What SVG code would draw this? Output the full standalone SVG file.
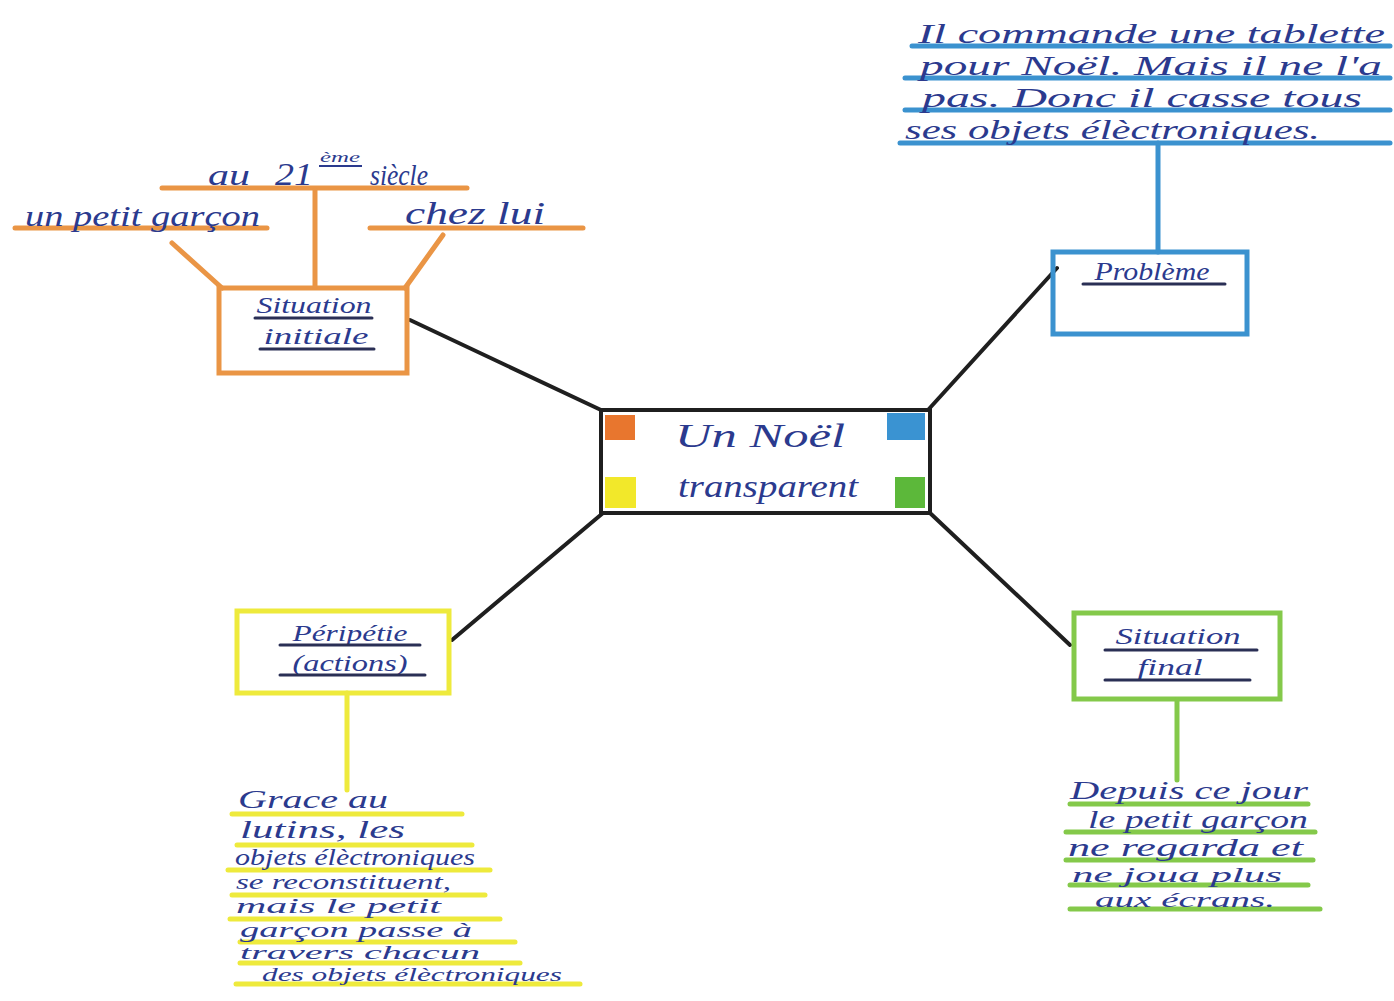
<svg xmlns="http://www.w3.org/2000/svg" width="1394" height="1001" viewBox="0 0 1394 1001">
<style>
.t{font-family:"Liberation Serif","DejaVu Serif",serif;font-style:italic;fill:#2b3a8e}
.ul{stroke:#2a2f55;stroke-width:3;stroke-linecap:round}
.or{stroke:#ea9545;stroke-width:5;fill:none;stroke-linecap:round}
.bl{stroke:#3b92cf;stroke-width:5;fill:none;stroke-linecap:round}
.ye{stroke:#eeea3c;stroke-width:5;fill:none;stroke-linecap:round}
.gr{stroke:#84c94a;stroke-width:5;fill:none;stroke-linecap:round}
.con{stroke:#1f1f1f;stroke-width:4;fill:none;stroke-linecap:round}
</style>
<rect width="1394" height="1001" fill="#ffffff"/>
<g id="connectors">
<line class="con" x1="410" y1="320" x2="601" y2="410"/>
<line class="con" x1="928" y1="410" x2="1057" y2="268"/>
<line class="con" x1="603" y1="513" x2="452" y2="640"/>
<line class="con" x1="930" y1="513" x2="1070" y2="645"/>
</g>
<g id="center">
<rect x="601" y="410" width="329" height="103" fill="#fff" stroke="#1f1f1f" stroke-width="4"/>
<rect x="605" y="415" width="30" height="25" fill="#e8762e"/>
<rect x="887" y="413" width="38" height="27" fill="#3a93d2"/>
<rect x="605" y="477" width="31" height="31" fill="#f2e82a"/>
<rect x="895" y="477" width="30" height="31" fill="#5cb83a"/>
<text class="t" x="760" y="447" font-size="34" text-anchor="middle" textLength="170" lengthAdjust="spacingAndGlyphs">Un Noël</text>
<text class="t" x="768" y="497" font-size="32" text-anchor="middle" textLength="180" lengthAdjust="spacingAndGlyphs">transparent</text>
</g>
<g id="situation-initiale">
<rect class="or" x="219" y="288" width="188" height="85"/>
<text class="t" x="314" y="313" font-size="24" text-anchor="middle" textLength="115" lengthAdjust="spacingAndGlyphs">Situation</text>
<line class="ul" x1="255" y1="318" x2="372" y2="318"/>
<text class="t" x="316" y="344" font-size="24" text-anchor="middle" textLength="105" lengthAdjust="spacingAndGlyphs">initiale</text>
<line class="ul" x1="260" y1="349" x2="374" y2="349"/>
</g>
<g id="initiale-details">
<line class="or" x1="162" y1="188" x2="467" y2="188"/>
<line class="or" x1="315" y1="190" x2="315" y2="287"/>
<line class="or" x1="15" y1="228" x2="267" y2="228"/>
<line class="or" x1="370" y1="228" x2="583" y2="228"/>
<line class="or" x1="172" y1="243" x2="222" y2="288"/>
<line class="or" x1="443" y1="235" x2="405" y2="288"/>
<text class="t" x="208" y="185" font-size="30" textLength="42" lengthAdjust="spacingAndGlyphs">au</text>
<text class="t" x="275" y="185" font-size="32" textLength="38" lengthAdjust="spacingAndGlyphs">21</text>
<text class="t" x="320" y="162" font-size="15" textLength="40" lengthAdjust="spacingAndGlyphs">ème</text>
<line x1="319" y1="166" x2="362" y2="166" stroke="#2b3a8e" stroke-width="2"/>
<text class="t" x="370" y="185" font-size="30" textLength="58" lengthAdjust="spacingAndGlyphs">siècle</text>
<text class="t" x="25" y="226" font-size="30" textLength="235" lengthAdjust="spacingAndGlyphs">un petit garçon</text>
<text class="t" x="405" y="224" font-size="32" textLength="140" lengthAdjust="spacingAndGlyphs">chez  lui</text>
</g>
<g id="probleme">
<rect class="bl" x="1053" y="252" width="194" height="82"/>
<text class="t" x="1152" y="280" font-size="26" text-anchor="middle" textLength="115" lengthAdjust="spacingAndGlyphs">Problème</text>
<line class="ul" x1="1083" y1="284" x2="1225" y2="284"/>
<line class="bl" x1="1158" y1="143" x2="1158" y2="252"/>
</g>
<g id="probleme-details">
<line class="bl" x1="912" y1="46" x2="1390" y2="46"/>
<line class="bl" x1="905" y1="78" x2="1390" y2="78"/>
<line class="bl" x1="905" y1="110" x2="1390" y2="110"/>
<line class="bl" x1="900" y1="143" x2="1390" y2="143"/>
<text class="t" x="918" y="43" font-size="28" textLength="467" lengthAdjust="spacingAndGlyphs">Il commande une tablette</text>
<text class="t" x="920" y="75" font-size="28" textLength="462" lengthAdjust="spacingAndGlyphs">pour Noël. Mais il ne l'a</text>
<text class="t" x="922" y="107" font-size="28" textLength="440" lengthAdjust="spacingAndGlyphs">pas. Donc il casse tous</text>
<text class="t" x="905" y="139" font-size="28" textLength="415" lengthAdjust="spacingAndGlyphs">ses objets élèctroniques.</text>
</g>
<g id="peripetie">
<rect class="ye" x="237" y="611" width="212" height="82"/>
<text class="t" x="350" y="641" font-size="24" text-anchor="middle" textLength="115" lengthAdjust="spacingAndGlyphs">Péripétie</text>
<line class="ul" x1="280" y1="645" x2="420" y2="645"/>
<text class="t" x="350" y="671" font-size="24" text-anchor="middle" textLength="115" lengthAdjust="spacingAndGlyphs">(actions)</text>
<line class="ul" x1="280" y1="675" x2="425" y2="675"/>
<line class="ye" x1="347" y1="693" x2="347" y2="790"/>
</g>
<g id="peripetie-details">
<line class="ye" x1="232" y1="814" x2="462" y2="814"/>
<line class="ye" x1="237" y1="845" x2="472" y2="845"/>
<line class="ye" x1="228" y1="870" x2="490" y2="870"/>
<line class="ye" x1="232" y1="895" x2="485" y2="895"/>
<line class="ye" x1="230" y1="919" x2="500" y2="919"/>
<line class="ye" x1="240" y1="942" x2="515" y2="942"/>
<line class="ye" x1="240" y1="963" x2="520" y2="963"/>
<line class="ye" x1="236" y1="984" x2="580" y2="984"/>
<text class="t" x="238" y="808" font-size="26" textLength="150" lengthAdjust="spacingAndGlyphs">Grace au</text>
<text class="t" x="240" y="838" font-size="26" textLength="165" lengthAdjust="spacingAndGlyphs">lutins, les</text>
<text class="t" x="235" y="865" font-size="23" textLength="240" lengthAdjust="spacingAndGlyphs">objets élèctroniques</text>
<text class="t" x="236" y="889" font-size="21" textLength="215" lengthAdjust="spacingAndGlyphs">se reconstituent,</text>
<text class="t" x="236" y="913" font-size="21" textLength="205" lengthAdjust="spacingAndGlyphs">mais le petit</text>
<text class="t" x="240" y="937" font-size="21" textLength="232" lengthAdjust="spacingAndGlyphs">garçon passe à</text>
<text class="t" x="240" y="959" font-size="19" textLength="240" lengthAdjust="spacingAndGlyphs">travers chacun</text>
<text class="t" x="262" y="981" font-size="19" textLength="300" lengthAdjust="spacingAndGlyphs">des objets élèctroniques</text>
</g>
<g id="situation-finale">
<rect class="gr" x="1074" y="613" width="206" height="86"/>
<text class="t" x="1178" y="644" font-size="24" text-anchor="middle" textLength="125" lengthAdjust="spacingAndGlyphs">Situation</text>
<line class="ul" x1="1105" y1="650" x2="1257" y2="650"/>
<text class="t" x="1170" y="675" font-size="24" text-anchor="middle" textLength="65" lengthAdjust="spacingAndGlyphs">final</text>
<line class="ul" x1="1105" y1="680" x2="1250" y2="680"/>
<line class="gr" x1="1177" y1="700" x2="1177" y2="780"/>
</g>
<g id="finale-details">
<line class="gr" x1="1070" y1="804" x2="1308" y2="804"/>
<line class="gr" x1="1066" y1="832" x2="1315" y2="832"/>
<line class="gr" x1="1066" y1="860" x2="1313" y2="860"/>
<line class="gr" x1="1070" y1="885" x2="1308" y2="885"/>
<line class="gr" x1="1070" y1="909" x2="1320" y2="909"/>
<text class="t" x="1070" y="799" font-size="26" textLength="238" lengthAdjust="spacingAndGlyphs">Depuis ce jour</text>
<text class="t" x="1088" y="828" font-size="25" textLength="220" lengthAdjust="spacingAndGlyphs">le petit garçon</text>
<text class="t" x="1068" y="856" font-size="25" textLength="235" lengthAdjust="spacingAndGlyphs">ne regarda et</text>
<text class="t" x="1072" y="882" font-size="22" textLength="210" lengthAdjust="spacingAndGlyphs">ne joua plus</text>
<text class="t" x="1095" y="907" font-size="22" textLength="180" lengthAdjust="spacingAndGlyphs">aux écrans.</text>
</g>
</svg>
